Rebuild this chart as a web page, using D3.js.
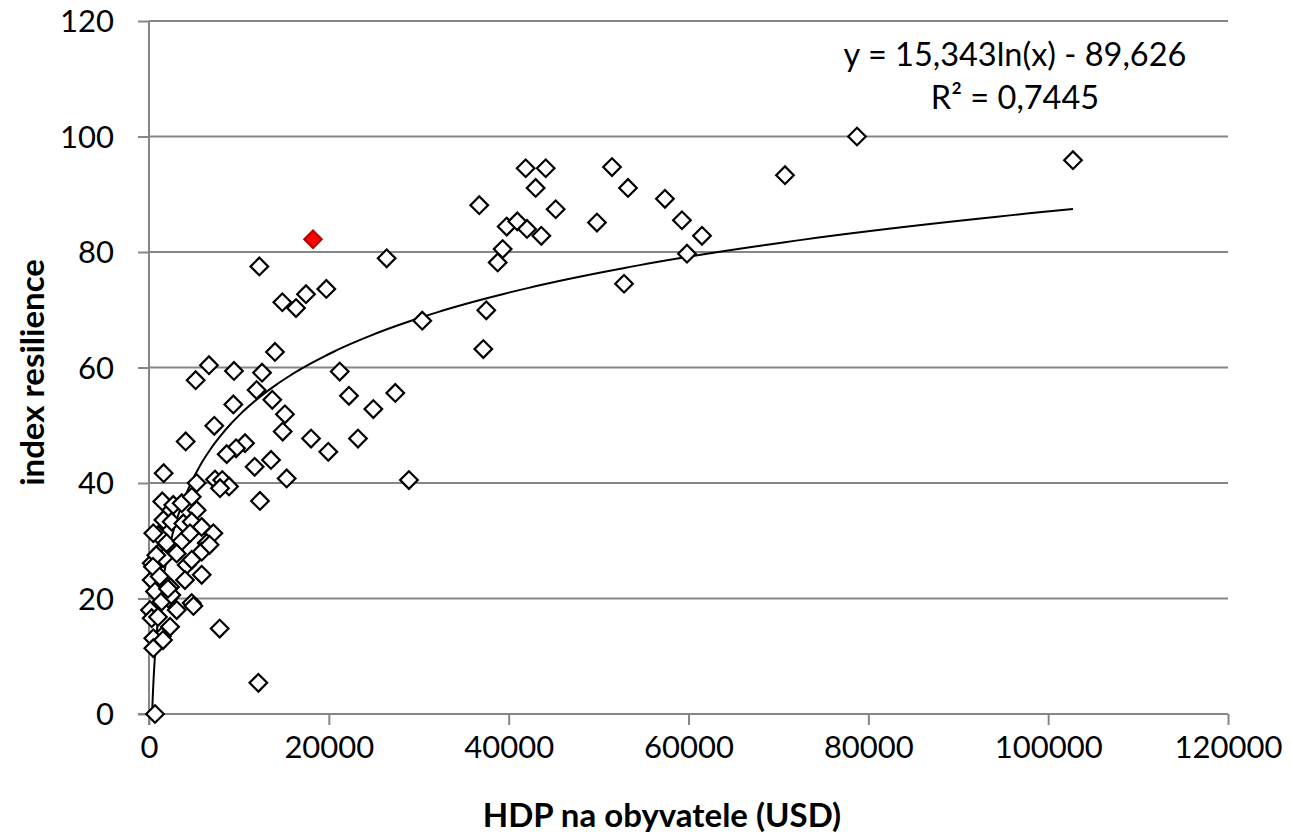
<!DOCTYPE html>
<html><head><meta charset="utf-8">
<script src="https://cdn.jsdelivr.net/npm/d3@7"></script>
<style>
html,body{margin:0;padding:0;background:#fff;}
svg{display:block;font-family:Lato,"Open Sans",sans-serif;}
</style></head>
<body>
<svg id="chart" width="1291" height="837"></svg>
<script>
// HDP na obyvatele (USD)
const gdp = [102760,78740,70730,57380,59270,61500,59830,52830,51490,53270,49820,41890,44120,43000,45230,36730,39780,40960,42040,43630,39330,38780,26430,37510,37180,30390,27390,12270,14830,16350,17460,19720,14010,6670,5190,9450,12570,21210,11970,13710,22240,24950,9380,15120,7260,14870,18020,23240,19940,4080,10680,9680,8640,13570,11750,1630,15310,28910,5300,7340,8150,8900,7900,12340,12160,7860,
1480,2700,3640,4750,5300,1600,2520,3820,4750,5860,7160,6420,1040,480,1960,3640,4560,5860,3080,1040,300,1600,4190,4750,300,2340,4000,5860,670,2150,1410,4750,4940,3080,110,300,2340,1410,480,480,670,6740,810,440,1190,2480,1000,1560,2110];
// index resilience
const resilience = [95.9,100.0,93.3,89.2,85.5,82.8,79.7,74.5,94.7,91.1,85.1,94.5,94.5,91.1,87.4,88.1,84.4,85.3,84.0,82.8,80.5,78.2,78.9,69.9,63.2,68.1,55.6,77.5,71.3,70.3,72.7,73.6,62.7,60.4,57.8,59.4,59.1,59.3,56.1,54.4,55.1,52.8,53.6,51.9,49.9,48.9,47.7,47.7,45.4,47.2,46.9,46.0,45.0,44.0,42.8,41.7,40.8,40.5,40.0,40.6,40.5,39.4,39.1,36.9,5.4,14.8,
36.8,36.2,36.5,37.6,35.3,33.6,33.3,33.0,33.3,32.4,31.3,29.6,31.0,31.3,29.6,29.9,31.3,28.1,27.8,27.8,26.1,27.0,25.8,26.7,23.2,22.0,23.2,24.1,21.2,20.0,19.5,19.2,18.7,18.0,18.0,16.6,15.1,13.4,13.1,11.4,0.0,29.3,27.5,25.5,23.8,20.6,16.8,12.8,21.7];
// highlighted country
const highlightGdp = [18240];
const highlightRes = [82.2];
// trendline coefficients: y = a ln(x) + b
const trendA = 15.343, trendB = -89.626;
const eqLines = ["y = 15,343ln(x) - 89,626", "R² = 0,7445"];
const xTicks = [0,20000,40000,60000,80000,100000,120000];
const yTicks = [0,20,40,60,80,100,120];
const xTitle = "HDP na obyvatele (USD)";
const yTitle = "index resilience";

const svg = d3.select("#chart");
const L = 149, R = 1228, T = 21, B = 714;
const x = d3.scaleLinear().domain([0,120000]).range([L,R]);
const y = d3.scaleLinear().domain([0,120]).range([B,T]);
const gridCol = "#868686";

// horizontal gridlines
svg.append("g").selectAll("line").data(yTicks.filter(v=>v>0)).join("line")
  .attr("x1",L).attr("x2",R).attr("y1",d=>y(d)).attr("y2",d=>y(d))
  .attr("stroke",gridCol).attr("stroke-width",2);

// axes
const yAxis = d3.axisLeft(y).tickValues(yTicks).tickSize(11).tickPadding(24).tickFormat(d3.format("d"));
const xAxis = d3.axisBottom(x).tickValues(xTicks).tickSize(11).tickPadding(12).tickFormat(d3.format("d"));
const gy = svg.append("g").attr("transform",`translate(${L},0)`).call(yAxis);
const gx = svg.append("g").attr("transform",`translate(0,${B})`).call(xAxis);
[gx,gy].forEach(g=>{
  g.select(".domain").attr("stroke",gridCol).attr("stroke-width",2);
  g.selectAll(".tick line").attr("stroke",gridCol).attr("stroke-width",2);
  g.selectAll(".tick text").attr("fill","#000").style("font-size","31px").style("font-family","Lato,sans-serif");
});
gy.select(".domain").attr("d",`M0,${B+11}V${T}`);
gx.select(".domain").attr("d",`M${L-11},0H${R}`);
gx.selectAll(".tick text").attr("dy","0.68em");
gy.selectAll(".tick text").attr("dy","0.35em");

// clip
svg.append("clipPath").attr("id","clip").append("rect").attr("x",L).attr("y",T).attr("width",R-L).attr("height",B-T);

// trendline
const xmin = d3.min(gdp.concat(highlightGdp)), xmax = d3.max(gdp.concat(highlightGdp));
const trendPts = d3.range(0,401).map(i=>{
  const v = Math.exp(Math.log(xmin) + (Math.log(xmax)-Math.log(xmin))*i/400);
  return [v, trendA*Math.log(v)+trendB];
});
svg.append("path").attr("clip-path","url(#clip)")
  .attr("d", d3.line().x(d=>x(d[0])).y(d=>y(d[1]))(trendPts))
  .attr("fill","none").attr("stroke","#000").attr("stroke-width",2);

// points
const diamond = d3.symbol().type(d3.symbolSquare).size(155);
const pts = gdp.map((g,i)=>({g, r:resilience[i]}));
svg.append("g").selectAll("path").data(pts).join("path")
  .attr("d",diamond)
  .attr("transform",d=>`translate(${x(d.g)},${y(d.r)}) rotate(45)`)
  .attr("fill","#fff").attr("stroke","#000").attr("stroke-width",2.2);
svg.append("g").selectAll("path").data(highlightGdp.map((g,i)=>({g,r:highlightRes[i]}))).join("path")
  .attr("d",diamond)
  .attr("transform",d=>`translate(${x(d.g)},${y(d.r)}) rotate(45)`)
  .attr("fill","#ff0000").attr("stroke","#b00000").attr("stroke-width",2);

// equation
svg.append("g").selectAll("text").data(eqLines).join("text")
  .attr("x",1015).attr("y",(d,i)=>66+i*43).attr("text-anchor","middle")
  .style("font-size","32.5px").attr("fill","#000").text(d=>d);

// titles
svg.append("text").attr("x",662).attr("y",827).attr("text-anchor","middle")
  .style("font-size","33px").style("font-weight","bold").text(xTitle);
svg.append("text").attr("transform",`translate(44,${(T+B)/2+5}) rotate(-90)`).attr("text-anchor","middle")
  .style("font-size","33px").style("font-weight","bold").text(yTitle);
</script>
</body></html>
